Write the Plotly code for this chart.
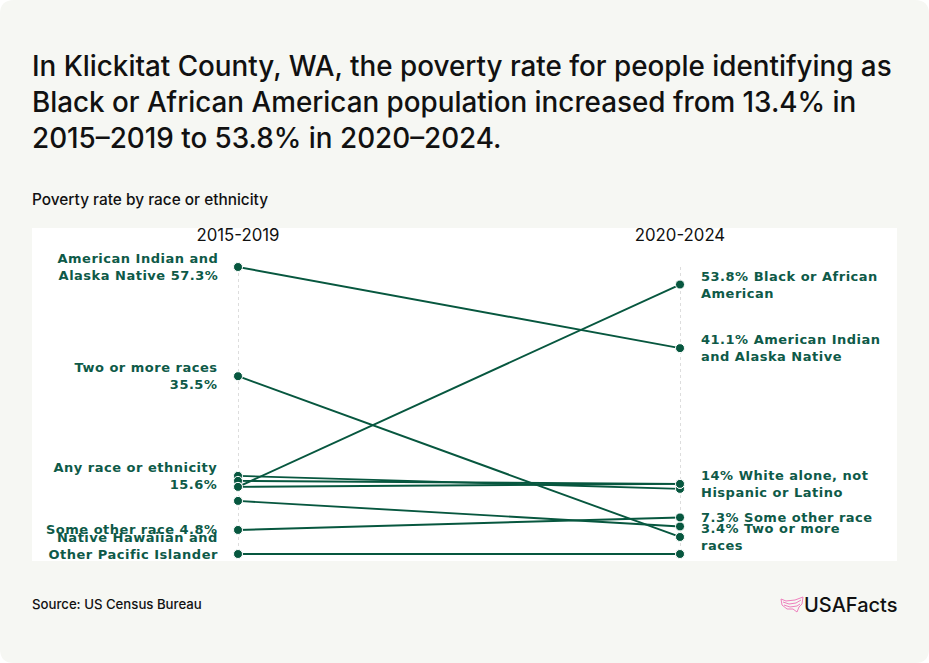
import plotly.graph_objects as go

# Poverty rate (%)
periods = ["2015-2019", "2020-2024"]
groups = ["American Indian and Alaska Native", "Two or more races", "Any race or ethnicity",
          "White alone, not Hispanic or Latino", "Black or African American", "Hispanic or Latino",
          "Some other race", "Asian", "Native Hawaiian and Other Pacific Islander"]
rate_2015 = [57.3, 35.5, 15.6, 14.6, 13.4, 10.6, 4.8, 13.4, 0]
rate_2020 = [41.1, 3.4, 13.0, 14.0, 53.8, 5.5, 7.3, 14.0, 0]

left_groups = ["American Indian and Alaska Native", "Two or more races", "Any race or ethnicity",
               "Some other race", "Native Hawaiian and Other Pacific Islander"]
left_labels = ["American Indian and<br>Alaska Native 57.3%", "Two or more races<br>35.5%",
               "Any race or ethnicity<br>15.6%", "Some other race 4.8%",
               "Native Hawaiian and<br>Other Pacific Islander"]
right_groups = ["Black or African American", "American Indian and Alaska Native",
                "White alone, not Hispanic or Latino", "Some other race", "Two or more races"]
right_labels = ["53.8% Black or African<br>American", "41.1% American Indian<br>and Alaska Native",
                "14% White alone, not<br>Hispanic or Latino", "7.3% Some other race",
                "3.4% Two or more<br>races"]

GREEN = "#07573f"
LABEL_FONT = dict(family="DejaVu Sans", size=13, color="#0e5a48", weight=600)
BG = "#f6f7f3"
INK = "#111111"
W, H = 929, 663
L, R, T, B = 32, 897, 267, 561


def px(x):
    return (x - L) / (R - L)


def py(y):
    return (B - y) / (B - T)


fig = go.Figure()
for name, a, b in zip(groups, rate_2015, rate_2020):
    fig.add_trace(go.Scatter(x=[0, 1], y=[a, b], name=name, mode="lines+markers", cliponaxis=False,
                             line=dict(color=GREEN, width=1.9),
                             marker=dict(color=GREEN, size=9, line=dict(color="white", width=1))))

for name, text in zip(left_groups, left_labels):
    val = rate_2015[groups.index(name)]
    fig.add_annotation(x=0, y=val, text=text, showarrow=False, xanchor="right", align="right",
                       xshift=-18, yshift=8 if val == 0 else 0, font=LABEL_FONT)
for name, text in zip(right_groups, right_labels):
    val = rate_2020[groups.index(name)]
    fig.add_annotation(x=1, y=val, text=text, showarrow=False, xanchor="left", align="left",
                       xshift=19, font=LABEL_FONT)

# rounded card behind everything, white panel behind the chart
r = 14
card = (f"M {px(r)} {py(0)} L {px(W - r)} {py(0)} Q {px(W)} {py(0)} {px(W)} {py(r)} "
        f"L {px(W)} {py(H - r)} Q {px(W)} {py(H)} {px(W - r)} {py(H)} "
        f"L {px(r)} {py(H)} Q {px(0)} {py(H)} {px(0)} {py(H - r)} "
        f"L {px(0)} {py(r)} Q {px(0)} {py(0)} {px(r)} {py(0)} Z")
fig.add_shape(type="path", xref="paper", yref="paper", path=card, fillcolor=BG, line_width=0, layer="below")
fig.add_shape(type="rect", xref="paper", yref="paper", x0=0, x1=1, y0=0, y1=py(228),
              fillcolor="white", line_width=0, layer="below")

# logo: outline of the map with flag stripes
outline = [(781, 599), (786, 601), (795, 600), (803, 597), (802, 604), (799, 607), (797, 612),
           (793, 609), (787, 609), (782, 605)]
stripe_1 = [(783, 602), (789, 604), (796, 603), (801, 600)]
stripe_2 = [(784, 605), (790, 607), (797, 606), (800, 604)]
for pts, close in [(outline, " Z"), (stripe_1, ""), (stripe_2, "")]:
    path = "M " + " L ".join(f"{px(x)} {py(y)}" for x, y in pts) + close
    fig.add_shape(type="path", xref="paper", yref="paper", path=path,
                  line=dict(color="#ee7fbd", width=1), layer="above")

fig.update_xaxes(range=[-206 / 442, 1 + 217 / 442], tickvals=[0, 1], ticktext=periods, side="top",
                 showgrid=True, gridcolor="#dddddd", griddash="3px,3px", gridwidth=1, zeroline=False,
                 showline=False, ticks="", ticklabelstandoff=22,
                 tickfont=dict(family="Inter", size=16.8, color=INK))
fig.update_yaxes(range=[-7 / 5.009, 57.3], visible=False)

fig.update_layout(
    width=W, height=H, showlegend=False,
    margin=dict(l=L, r=W - R, t=T, b=H - B),
    paper_bgcolor="white", plot_bgcolor="rgba(0,0,0,0)",
    font=dict(family="Inter"),
    title=dict(text="In Klickitat County, WA, the poverty rate for people identifying as<br>"
                    "Black or African American population increased from 13.4% in<br>"
                    "2015–2019 to 53.8% in 2020–2024.",
               x=L / W, xanchor="left", y=1 - 76 / H, yanchor="top",
               font=dict(family="Inter", size=27.8, color=INK, weight=500)),
)
fig.add_annotation(xref="paper", yref="paper", x=0, xanchor="left", xshift=-2, y=py(199), yanchor="middle",
                   text="Poverty rate by race or ethnicity", showarrow=False,
                   font=dict(family="Inter", size=15.4, color=INK, weight=500))
fig.add_annotation(xref="paper", yref="paper", x=0, xanchor="left", xshift=-2, y=py(604), yanchor="middle",
                   text="Source: US Census Bureau", showarrow=False,
                   font=dict(family="Inter", size=13.2, color=INK, weight=500))
fig.add_annotation(xref="paper", yref="paper", x=1, xanchor="right", xshift=2, y=py(605), yanchor="middle",
                   text="USAFacts", showarrow=False,
                   font=dict(family="Inter", size=20, color=INK, weight=500))

# page margin off, and the wider tracking the green labels have in the original
post = """
document.body.style.margin = '0';
document.querySelectorAll('.annotation-text').forEach(function (el) {
    if (el.style.fill.indexOf('14, 90, 72') >= 0) { el.setAttribute('letter-spacing', '0.5'); }
});
"""
fig.write_html("out.html", post_script=post, config={"displayModeBar": False})
